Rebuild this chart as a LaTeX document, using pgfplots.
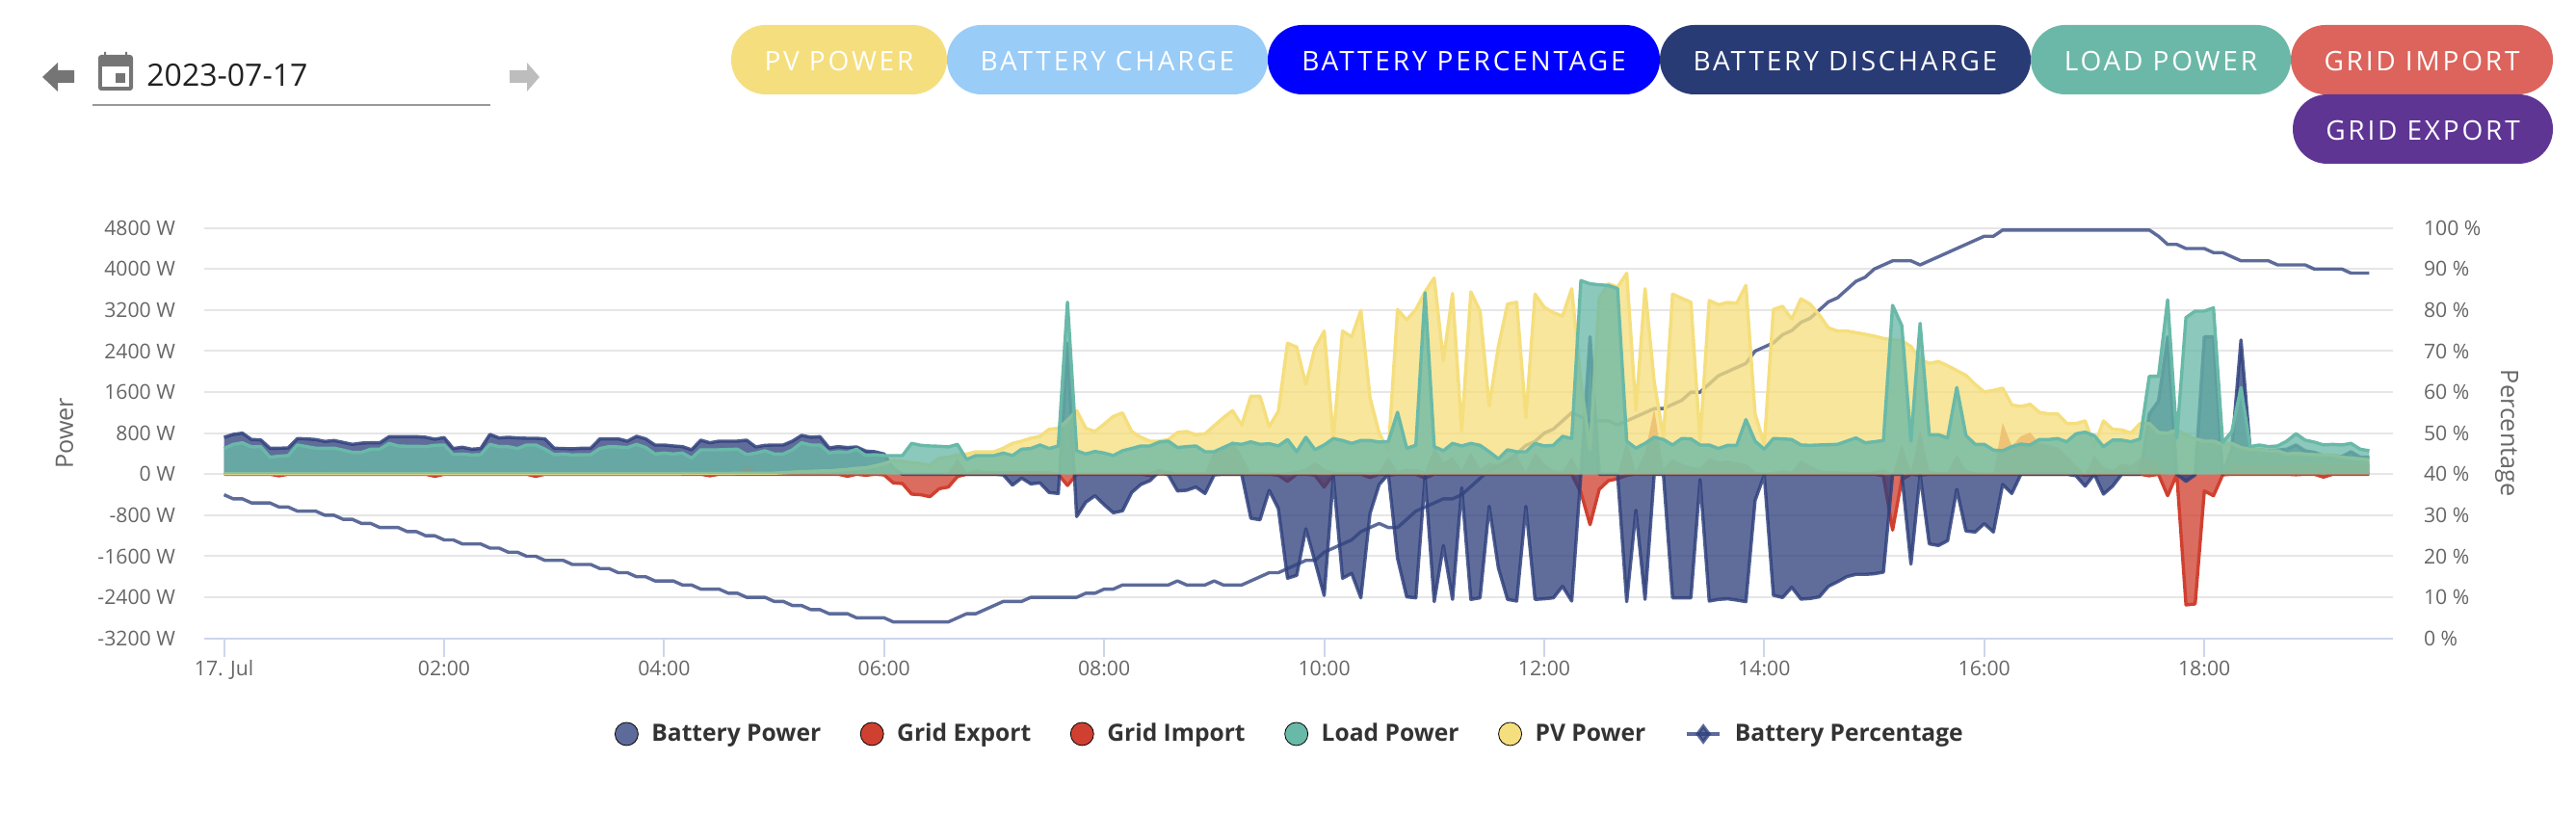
\documentclass[border=0pt]{standalone}
\usepackage{fontspec}
\setmainfont{Open Sans}
\newfontfamily\btnfont[LetterSpace=10]{Open Sans}
\usepackage{pgfplots}
\usepackage{pgfplotstable}
\pgfplotsset{compat=1.18}

\definecolor{batcol}{RGB}{48,65,125}
\definecolor{gridcol}{RGB}{208,64,48}
\definecolor{loadcol}{RGB}{105,185,168}
\definecolor{pvcol}{RGB}{245,222,125}
\definecolor{axcol}{RGB}{204,214,235}
\definecolor{gridln}{RGB}{230,230,230}
\definecolor{lblcol}{RGB}{102,102,102}
\definecolor{btncharge}{RGB}{153,204,247}
\definecolor{btndis}{RGB}{41,59,117}
\definecolor{btnload}{RGB}{108,184,168}
\definecolor{btnimp}{RGB}{220,100,92}
\definecolor{btnexp}{RGB}{95,53,148}

\newcommand{\btn}[6]{%
  \fill[#5,rounded corners=17.9pt] (#1,#3) rectangle (#2,#4);
  \node[text=white,inner sep=0pt,yshift=-0.6pt,font=\btnfont\fontsize{14}{16}\selectfont] at ({(#1+#2)/2},{(#3+#4)/2}) {#6};}

% minutes after midnight, power in W, battery in %
\pgfplotstableread{
t bat exp imp load pv pct
0 720 0 10 501 10 35
5 776 0 20 582 10 34
10 801 0 20 613 10 34
15 676 0 60 532 10 33
20 670 0 20 538 10 33
25 507 0 20 332 10 33
30 507 -30 20 351 10 32
35 513 0 60 363 10 32
40 695 0 20 570 10 31
45 689 0 20 538 10 31
50 676 0 20 507 10 31
55 639 0 80 507 10 30
60 657 0 20 507 10 30
65 620 0 20 470 10 29
70 582 0 20 426 10 29
75 607 0 80 426 10 28
80 613 0 20 488 10 28
85 613 0 20 488 10 27
90 732 0 20 601 10 27
95 732 0 20 551 10 27
100 732 0 20 545 10 26
105 732 0 20 545 10 26
110 720 0 20 538 10 25
115 682 -40 20 563 10 25
120 714 0 20 570 10 24
125 501 0 60 382 10 24
130 526 0 20 394 10 23
135 488 0 20 376 10 23
140 501 0 60 382 10 23
145 776 0 20 582 10 22
150 707 0 20 538 10 22
155 720 0 20 538 10 21
160 707 0 20 501 10 21
165 701 0 40 570 10 20
170 701 -40 20 570 10 20
175 689 0 20 488 10 19
180 507 0 20 382 10 19
185 501 0 20 394 10 19
190 495 0 20 376 10 18
195 507 0 20 382 10 18
200 507 0 20 382 10 18
205 689 0 20 501 10 17
210 689 0 20 538 10 17
215 689 0 20 532 10 16
220 645 0 20 520 10 16
225 739 0 20 582 10 15
230 689 0 20 520 10 15
235 570 0 20 394 10 14
240 570 0 20 413 10 14
245 551 0 20 394 10 14
250 538 0 20 413 15 13
255 476 0 20 313 15 13
260 664 0 20 476 15 12
265 613 -30 20 476 15 12
270 645 0 20 476 15 12
275 645 0 20 482 15 11
280 645 0 20 488 20 11
285 664 0 160 382 20 10
290 532 0 40 413 20 10
295 563 0 20 457 20 10
300 570 0 20 394 20 9
305 570 0 20 394 30 9
310 645 0 20 476 40 8
315 757 0 20 613 50 8
320 720 0 20 570 55 7
325 732 0 20 570 63 7
330 513 0 20 413 65 6
335 538 0 20 438 81 6
340 520 -40 20 426 95 6
345 532 0 20 488 113 5
350 451 -20 20 363 125 5
355 438 0 20 382 163 5
360 394 -13 20 363 207 5
365 113 -169 0 363 269 4
370 0 -182 0 363 250 4
375 0 -388 0 601 225 4
380 0 -400 0 563 207 4
385 0 -438 0 551 175 4
390 0 -282 0 545 313 4
395 0 -250 40 532 332 4
400 0 -44 300 582 376 5
405 0 0 30 288 394 6
410 0 0 100 363 438 6
415 0 0 60 363 438 7
420 0 0 60 363 438 8
425 -13 0 60 413 507 9
430 -213 0 60 363 601 9
435 -75 0 60 488 645 9
440 -188 0 60 501 701 10
445 -169 0 60 570 739 10
450 -357 0 60 501 876 10
455 -376 0 20 551 895 10
460 2554 -219 0 3355 1052 10
465 -826 0 20 457 1240 10
470 -545 0 20 394 895 11
475 -419 0 20 444 833 11
480 -595 0 20 413 977 12
485 -751 0 20 363 1127 12
490 -714 0 20 457 1196 13
495 -357 0 20 501 833 13
500 -200 0 20 551 720 13
505 -125 -25 40 551 645 13
510 50 0 110 626 645 13
515 -13 0 60 645 676 13
520 -326 0 30 520 814 14
525 -313 0 30 538 833 13
530 -250 0 30 551 770 13
535 -376 0 30 438 789 13
540 -13 0 457 438 945 14
545 0 0 488 520 1102 13
550 0 0 645 601 1240 13
555 0 0 363 582 958 13
560 -858 0 20 632 1521 14
565 -889 0 40 582 1521 15
570 -313 0 30 595 926 16
575 -670 -20 30 551 1227 16
580 -2028 -138 40 676 2554 17
585 -1972 0 60 438 2479 18
590 -1064 0 110 720 1753 19
595 -1703 -20 238 476 2460 19
600 -2366 -250 110 570 2792 21
605 -44 0 50 695 707 22
610 -2028 0 40 657 2792 23
615 -1934 0 50 601 2679 24
620 -2410 0 50 657 3193 26
625 -764 -63 40 657 1490 27
630 -200 0 60 626 801 28
635 0 -20 332 639 457 27
640 -1640 0 60 1208 3211 27
645 -2391 0 110 507 3011 29
650 -2410 0 100 563 3211 31
655 -44 -75 50 3537 3556 32
660 -2485 0 520 538 3825 33
665 -1390 0 238 457 2222 34
670 -2441 0 332 601 3524 34
675 -263 0 80 551 845 35
680 -2441 0 426 601 3556 37
685 -2410 0 110 563 3180 39
690 -626 0 225 438 1333 41
695 -1828 0 200 300 2491 42
700 -2441 0 300 476 3318 43
705 -2473 0 363 438 3355 45
710 -626 0 50 438 1102 47
715 -2441 0 413 601 3512 48
720 -2429 0 207 551 3255 50
725 -2410 0 80 563 3149 51
730 -2185 0 50 739 3086 53
735 -2473 0 332 695 3618 55
740 0 -357 0 3775 1803 54
745 2680 -983 0 3712 488 53
750 0 -294 0 3693 3430 53
755 0 -125 0 3681 3712 53
760 0 -88 0 3618 3650 52
765 -2485 -20 645 645 3919 53
770 -701 0 50 507 1252 54
775 -2441 0 426 601 3618 55
780 0 0 1270 720 1803 56
785 0 0 113 676 707 56
790 -2410 0 300 570 3512 57
795 -2410 0 207 695 3430 58
800 -2410 0 145 689 3355 60
805 -106 0 125 570 645 60
810 -2473 0 313 570 3387 62
815 -2441 0 250 501 3305 64
820 -2429 0 269 563 3349 65
825 -2454 0 230 563 3337 66
830 -2485 0 207 1064 3681 67
835 -513 0 50 645 1177 70
840 -13 0 20 488 582 71
845 -2360 0 50 695 3211 72
850 -2404 0 80 689 3274 74
855 -2204 0 50 676 3024 75
860 -2435 0 269 570 3418 77
865 -2423 0 175 563 3318 78
870 -2391 0 80 570 3105 80
875 -2185 0 60 576 2855 82
880 -2097 0 60 582 2792 83
885 -1997 0 50 645 2792 85
890 -1953 0 50 707 2761 87
895 -1953 0 40 613 2729 88
900 -1941 0 60 632 2692 90
905 -1909 -30 100 657 2648 91
910 0 -1089 0 3293 2617 92
915 0 -100 582 2898 2604 92
920 -1753 0 50 645 2491 92
925 0 -20 864 2942 2241 91
930 -1358 0 60 770 2160 92
935 -1390 0 40 770 2197 93
940 -1296 0 40 707 2116 94
945 -294 0 394 1690 2022 95
950 -1108 0 80 757 1928 96
955 -1127 0 40 582 1753 97
960 -964 0 20 582 1603 98
965 -1127 0 0 470 1634 98
970 -200 0 1002 457 1678 99.5
975 -376 0 551 538 1352 99.5
980 0 0 739 588 1321 99.5
985 0 0 814 570 1365 99.5
990 0 0 601 676 1208 99.5
995 0 0 570 676 1177 99.5
1000 0 0 520 695 1177 99.5
1005 0 0 363 632 989 99.5
1010 -30 0 175 789 989 99.5
1015 -232 -20 0 820 1039 99.5
1020 0 -20 363 751 551 99.5
1025 -388 0 144 538 1039 99.5
1030 -232 0 81 664 876 99.5
1035 0 0 207 664 864 99.5
1040 0 0 175 632 801 99.5
1045 0 0 300 689 989 99.5
1050 1177 -30 300 1909 989 99.5
1055 1427 0 200 1909 814 98
1060 2680 -419 0 3399 801 96
1065 0 0 0 707 864 96
1070 -138 -2548 0 3055 770 95
1075 -13 -2529 0 3180 689 95
1080 2680 -326 0 3180 645 95
1085 2680 -419 0 3243 645 94
1090 0 -13 50 613 582 94
1095 488 0 200 833 601 93
1100 2617 0 200 1690 520 92
1105 488 0 175 538 488 92
1110 476 0 165 570 476 92
1115 457 0 150 538 457 92
1120 470 0 150 551 457 91
1125 488 0 200 645 394 91
1130 570 -10 200 789 407 91
1135 457 0 200 664 394 91
1140 426 0 200 626 382 90
1145 363 -56 200 570 376 90
1150 363 0 200 582 376 90
1155 344 0 200 570 332 90
1160 438 0 200 601 313 89
1165 332 0 200 488 300 89
1170 332 0 200 457 282 89
}\powerdata

\begin{document}
\begin{tikzpicture}
\path[use as bounding box] (0,0) rectangle (1337pt,422pt);

% page controls above the chart, in reference pixels
\begin{scope}[x=0.5pt,y=-0.5pt,yshift=422pt]
  \fill[black!54] (44,80) -- (60,65) -- (60,73) -- (77,73) -- (77,86) -- (60,86) -- (60,95) -- cycle;
  \fill[black!26] (560,80) -- (547,65) -- (547,73) -- (529,73) -- (529,86) -- (547,86) -- (547,95) -- cycle;
  \fill[black!54,rounded corners=1.5pt] (102,57) rectangle (138,94);
  \fill[black!54] (108,54) rectangle (110,60) (130,54) rectangle (132,60);
  \fill[white] (106,69) rectangle (134,90);
  \fill[black!54] (120,76) rectangle (130,86);
  \node[anchor=west,inner sep=0pt,font=\fontsize{16}{18}\selectfont,text=black!87] at (152,78) {2023-07-17};
  \draw[black!40,line width=1pt] (96,109) -- (509,109);

  \btn{759}{983}{26}{98}{pvcol}{PV POWER}
  \btn{983}{1316}{26}{98}{btncharge}{BATTERY CHARGE}
  \btn{1316}{1723}{26}{98}{blue}{BATTERY PERCENTAGE}
  \btn{1723}{2108}{26}{98}{btndis}{BATTERY DISCHARGE}
  \btn{2108}{2378}{26}{98}{btnload}{LOAD POWER}
  \btn{2378}{2650}{26}{98}{btnimp}{GRID IMPORT}
  \btn{2380}{2650}{98}{170}{btnexp}{GRID EXPORT}
\end{scope}

% percentage axis first: its line lies under every area, and it carries the grid
\begin{axis}[
  at={(106pt,90.65pt)},
  scale only axis,
  width=1136pt, height=213pt,
  xmin=-10.8, xmax=1182.9,
  ymin=0, ymax=100,
  axis x line=bottom,
  axis y line=right,
  x axis line style={-,draw=axcol,line width=1pt},
  y axis line style={draw=none},
  xtick={0,120,240,360,480,600,720,840,960,1080},
  xticklabels={17. Jul,02:00,04:00,06:00,08:00,10:00,12:00,14:00,16:00,18:00},
  ytick={0,10,...,100},
  yticklabels={0 \%,10 \%,20 \%,30 \%,40 \%,50 \%,60 \%,70 \%,80 \%,90 \%,100 \%},
  ymajorgrids,
  grid style={gridln,line width=1pt},
  tick align=outside,
  xtick style={draw=axcol,line width=1pt},
  ytick style={draw=none},
  major tick length=9.5pt,
  tick label style={text=lblcol,font=\fontsize{10.6}{12}\selectfont},
  yticklabel style={anchor=west,xshift=3pt},
  xticklabel style={yshift=1.5pt},
  ylabel={Percentage},
  every axis y label/.style={at={(axis description cs:1.052,0.5)},anchor=center,rotate=-90,
    text=lblcol,font=\fontsize{12.6}{14}\selectfont},
]
  \addplot[batcol,opacity=0.78,line width=1.7pt,line join=round] table[x=t,y=pct] {\powerdata};
\end{axis}

\begin{axis}[
  at={(106pt,90.65pt)},
  scale only axis,
  width=1136pt, height=213pt,
  xmin=-10.8, xmax=1182.9,
  ymin=-3200, ymax=4800,
  axis x line=none,
  axis y line=left,
  y axis line style={draw=none},
  ytick={-3200,-2400,...,4800},
  yticklabels={-3200 W,-2400 W,-1600 W,-800 W,0 W,800 W,1600 W,2400 W,3200 W,4000 W,4800 W},
  ytick style={draw=none},
  major tick length=0pt,
  tick label style={text=lblcol,font=\fontsize{10.6}{12}\selectfont},
  yticklabel style={anchor=east,xshift=-11.5pt},
  ylabel={Power},
  every axis y label/.style={at={(axis description cs:-0.0638,0.5)},anchor=center,rotate=90,
    text=lblcol,font=\fontsize{12.6}{14}\selectfont},
  legend columns=6,
  legend style={at={(axis description cs:0.4965,-0.233)},anchor=center,draw=none,fill=none,
    font=\fontsize{12.3}{14}\selectfont\bfseries,text=black!80,
    /tikz/every even column/.append style={column sep=18.5pt},
    /tikz/every odd column/.append style={column sep=5pt}},
  legend cell align=left,
  area/.style={fill=#1,fill opacity=0.77,draw=none,forget plot},
  edge/.style={#1,line width=1.7pt,line join=round,forget plot},
]
  % Grid Import sits under PV, PV under Load; Battery line on top of Grid Export along zero
  \addplot[area=gridcol] table[x=t,y=exp] {\powerdata} \closedcycle;
  \addplot[edge=gridcol] table[x=t,y=exp] {\powerdata};
  \addplot[area=batcol] table[x=t,y=bat] {\powerdata} \closedcycle;
  \addplot[edge=batcol,draw opacity=0.85] table[x=t,y=bat] {\powerdata};
  \addplot[area=gridcol] table[x=t,y=imp] {\powerdata} \closedcycle;
  \addplot[area=pvcol] table[x=t,y=pv] {\powerdata} \closedcycle;
  \addplot[edge=pvcol] table[x=t,y=pv] {\powerdata};
  \addplot[area=loadcol] table[x=t,y=load] {\powerdata} \closedcycle;
  \addplot[edge=loadcol] table[x=t,y=load] {\powerdata};

  \addlegendimage{only marks,mark=*,mark size=6pt,mark options={draw=none,fill=batcol,fill opacity=0.78}}
  \addlegendentry{Battery Power}
  \addlegendimage{only marks,mark=*,mark size=6pt,mark options={draw=none,fill=gridcol}}
  \addlegendentry{Grid Export}
  \addlegendimage{only marks,mark=*,mark size=6pt,mark options={draw=none,fill=gridcol}}
  \addlegendentry{Grid Import}
  \addlegendimage{only marks,mark=*,mark size=6pt,mark options={draw=none,fill=loadcol}}
  \addlegendentry{Load Power}
  \addlegendimage{only marks,mark=*,mark size=6pt,mark options={draw=none,fill=pvcol}}
  \addlegendentry{PV Power}
  \addlegendimage{batcol,opacity=0.78,line width=1.7pt,mark=diamond*,mark size=4pt,mark options={draw=none,fill=batcol}}
  \addlegendentry{Battery Percentage}
\end{axis}
\end{tikzpicture}
\end{document}
